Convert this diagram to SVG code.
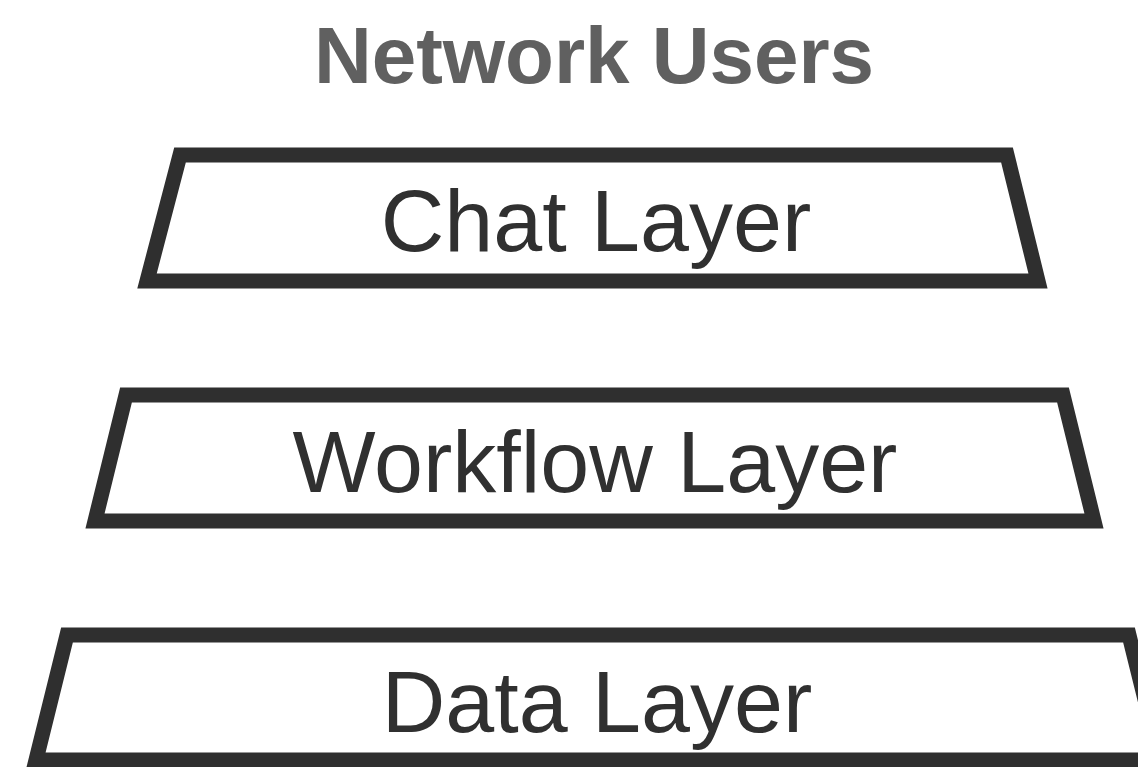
<svg xmlns="http://www.w3.org/2000/svg" width="1138" height="767" viewBox="0 0 1138 767">
<style>
.layer{fill:none;stroke:#2f2f2f;stroke-width:15;stroke-linejoin:miter}
.lbl{font-family:"Liberation Sans",Arial,sans-serif;font-size:88px;fill:#303030;text-anchor:middle}
.title{font-family:"Liberation Sans",Arial,sans-serif;font-size:80px;font-weight:bold;fill:#606060;text-anchor:middle}
</style>
<rect width="1138" height="767" fill="#ffffff"/>
<g id="title"><text class="title" x="594" y="83">Network Users</text></g>
<g id="chat-layer">
<polygon class="layer" points="180,155 1007,155 1038,281 147,281"/>
<text class="lbl" x="596" y="251">Chat Layer</text>
</g>
<g id="workflow-layer">
<polygon class="layer" points="126,395 1063,395 1094,521 95,521"/>
<text class="lbl" x="595" y="492">Workflow Layer</text>
</g>
<g id="data-layer">
<polygon class="layer" points="67,635 1129,635 1160,760 36,760"/>
<text class="lbl" x="597" y="732">Data Layer</text>
</g>
<g id="connectors"></g>
</svg>
